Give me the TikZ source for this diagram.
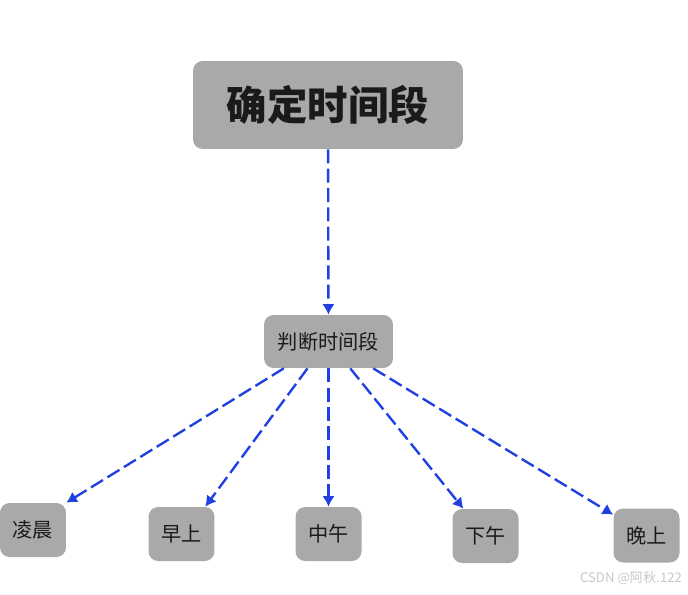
\documentclass[tikz,border=0pt]{standalone}
\usepackage{fontspec}
\setmainfont{Noto Sans CJK SC}
\usetikzlibrary{arrows.meta}
\definecolor{ink}{HTML}{1A1A1A}
\definecolor{boxgray}{HTML}{A9A9A9}
\definecolor{link}{HTML}{2040E0}
\definecolor{mark}{HTML}{C8C8C8}
\tikzset{>=Latex,
  box/.style={fill=boxgray,rounded corners=5.5pt,text=ink,inner sep=0pt,font=\fontsize{11.5}{13}\selectfont},
  head/.style={box,minimum width=5.4cm,minimum height=1.76cm,font=\fontsize{23}{26}\selectfont\bfseries},
  judge/.style={box,minimum width=2.58cm,minimum height=1.06cm},
  leaf/.style={box,minimum width=1.32cm,minimum height=1.08cm},
  flow/.style={draw=link,line width=1.35pt,dash pattern=on 8pt off 3pt,
    -{Latex[length=6pt,width=7pt]}}}
\begin{document}
\begin{tikzpicture}[x=0.02cm,y=-0.02cm]
  \useasboundingbox (0,0) rectangle (688,594);
  \node[head] (top) at (328,105) {确定时间段};
  \node[judge] (mid) at (328.5,341.5) {判断时间段};
  \node[leaf] (dawn) at (33,530) {凌晨};
  \node[leaf] (morn) at (181.5,534) {早上};
  \node[leaf] (noon) at (328.5,534) {中午};
  \node[leaf] (aftn) at (485.5,536) {下午};
  \node[leaf] (eve) at (646.5,535.5) {晚上};
  \draw[flow] (top) -- (mid);
  \draw[flow] (mid.211) -- (dawn.north east);
  \draw[flow] (mid.232) -- (morn.49);
  \draw[flow] (mid) -- (noon);
  \draw[flow] (mid.-51) -- (aftn.129);
  \draw[flow] (mid.-31) -- (eve.148);
  \node[text=mark,font=\fontsize{7.5}{9}\selectfont] (wm) at (631,578) {CSDN @阿秋.122};
\end{tikzpicture}
\end{document}
